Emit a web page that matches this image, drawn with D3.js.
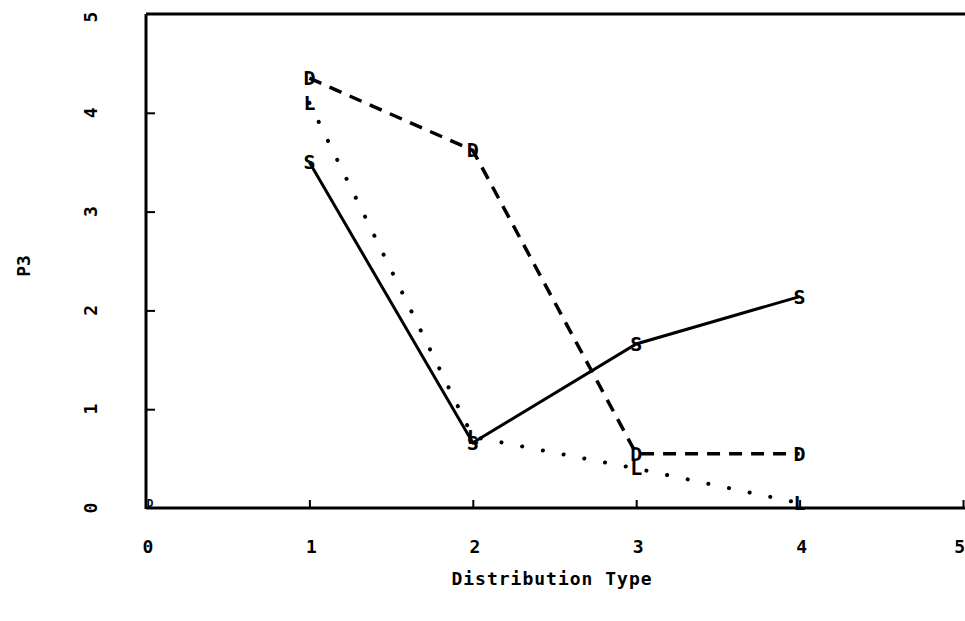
<!DOCTYPE html>
<html><head><meta charset="utf-8">
<script src="https://cdn.jsdelivr.net/npm/d3@7"></script>
<style>
body{margin:0;background:#fff;}
text{font-family:"DejaVu Sans Mono",monospace;font-weight:bold;fill:#000;}
</style></head>
<body>
<svg id="c" width="965" height="621"></svg>
<script>
const categories = [1, 2, 3, 4];
const seriesS = [3.5, 0.66, 1.66, 2.14];
const seriesD = [4.35, 3.62, 0.55, 0.55];
const seriesL = [4.1, 0.72, 0.4, 0.05];
const xTicks = [0, 1, 2, 3, 4, 5];
const yTicks = [0, 1, 2, 3, 4, 5];
const xTitle = "Distribution Type";
const yTitle = "P3";

const svg = d3.select("#c");
const x = d3.scaleLinear().domain([0, 5]).range([146, 963]);
const y = d3.scaleLinear().domain([0, 5]).range([508, 14]);

// frame
const frame = svg.append("g").attr("stroke", "#000").attr("stroke-width", 3).attr("fill", "none");
frame.append("line").attr("x1", x(0)).attr("x2", x(0)).attr("y1", y(5)).attr("y2", y(0) + 1);
frame.append("line").attr("x1", x(0)).attr("x2", 965).attr("y1", y(0)).attr("y2", y(0));
frame.append("line").attr("x1", x(0)).attr("x2", 965).attr("y1", y(5)).attr("y2", y(5));

// ticks (inward)
const yAxis = d3.axisRight(y).tickValues(yTicks.slice(1, 5)).tickSize(9).tickFormat("");
svg.append("g").attr("transform", `translate(${x(0)},0)`).call(yAxis)
  .call(g => g.select(".domain").remove())
  .selectAll("line").attr("stroke-width", 2);
const xAxis = d3.axisTop(x).tickValues(xTicks.slice(1)).tickSize(8).tickFormat("");
svg.append("g").attr("transform", `translate(0,${y(0)})`).call(xAxis)
  .call(g => g.select(".domain").remove())
  .selectAll("line").attr("stroke-width", 2);

// tick labels
svg.append("g").selectAll("text").data(xTicks).join("text")
  .attr("x", d => d === 5 ? 965 : x(d) + 2).attr("y", 553)
  .attr("text-anchor", d => d === 5 ? "end" : "middle")
  .attr("font-size", 18).text(d => d);
svg.append("g").selectAll("text").data(yTicks).join("text")
  .attr("transform", d => `translate(97,${d === 5 ? y(d) + 3 : y(d)}) rotate(-90)`)
  .attr("text-anchor", "middle").attr("font-size", 18).text(d => d);

// titles
svg.append("text").attr("x", 552).attr("y", 585).attr("text-anchor", "middle")
  .attr("font-size", 18).attr("letter-spacing", 1).text(xTitle);
svg.append("text").attr("transform", "translate(30,266) rotate(-90)")
  .attr("text-anchor", "middle").attr("font-size", 18).text(yTitle);

// lines
const line = d3.line().x((d, i) => x(categories[i])).y(d => y(d));
svg.append("path").datum(seriesS).attr("d", line).attr("fill", "none")
  .attr("stroke", "#000").attr("stroke-width", 3);
svg.append("path").datum(seriesD).attr("d", line).attr("fill", "none")
  .attr("stroke", "#000").attr("stroke-width", 3.5).attr("stroke-dasharray", "13,9");
svg.append("path").datum(seriesL).attr("d", line).attr("fill", "none")
  .attr("stroke", "#000").attr("stroke-width", 4).attr("stroke-linecap", "round")
  .attr("stroke-dasharray", "0.1,21");

// markers
function markers(data, ch) {
  svg.append("g").selectAll("text").data(data).join("text")
    .attr("x", (d, i) => x(categories[i])).attr("y", d => y(d) + 7)
    .attr("text-anchor", "middle").attr("font-size", 20).text(ch);
}
markers(seriesS, "S");
markers(seriesD, "D");
markers(seriesL, "L");

// origin marker
svg.append("text").attr("x", x(0) + 4).attr("y", y(0) - 1).attr("text-anchor", "middle")
  .attr("font-size", 11).text("D");
</script>
</body></html>
